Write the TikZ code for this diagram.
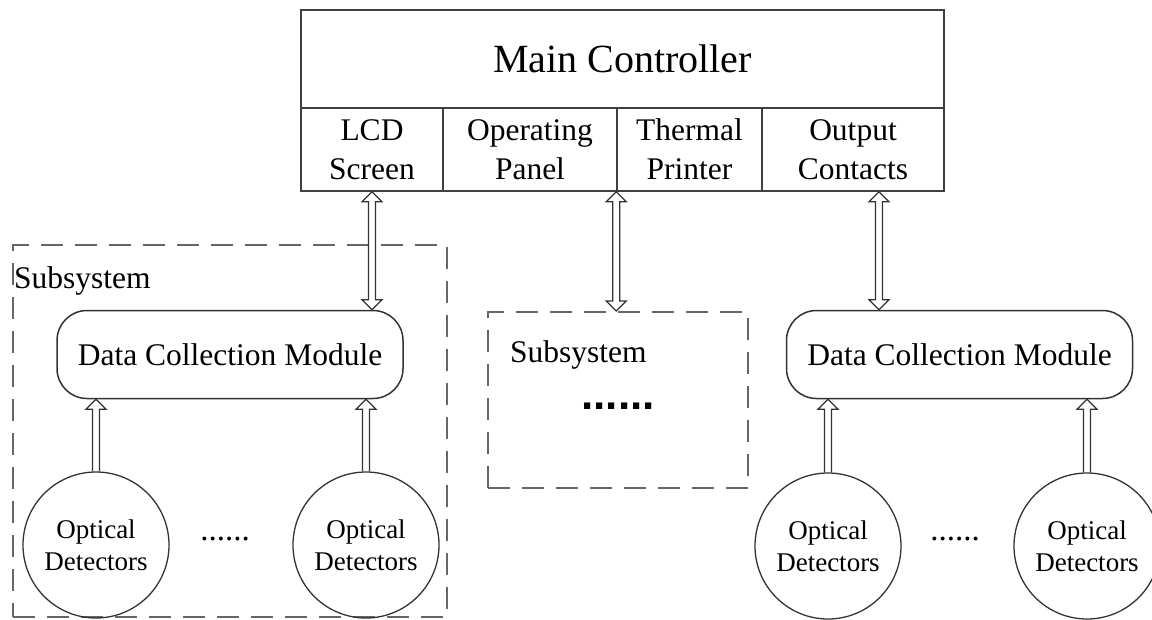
\documentclass[tikz,border=0pt]{standalone}
\usepackage{fontspec}
\setmainfont{Liberation Serif}
\newfontfamily\dotfont{Liberation Sans}
\usetikzlibrary{calc}

\tikzset{
  ctrlbox/.style={draw=black!75, line width=1.5pt, inner sep=0pt, align=center},
  cell/.style={ctrlbox, minimum height=83pt, font=\fontsize{31.5}{39}\selectfont},
  module/.style={draw=black!80, line width=1.5pt, rounded corners=30pt, minimum width=346pt, minimum height=88pt, font=\fontsize{31.5}{38}\selectfont},
  detector/.style={draw=black!80, circle, line width=1.3pt, minimum size=146pt, inner sep=0pt, align=center, font=\fontsize{27}{32}\selectfont},
  subsys/.style={draw=black!60, line width=2pt, dash pattern=on 22pt off 12pt, inner sep=0pt},
  tagtext/.style={font=\fontsize{31.5}{38}\selectfont, inner sep=0pt, anchor=base west},
  uparrow/.style={draw=black!80, line width=1.2pt, line join=miter, to path={
    let \p1=(\tikztostart), \p2=(\tikztotarget) in
    (\x1-3.5pt,\y1) -- (\x1-3.5pt,\y2-10pt) -- (\x1-10pt,\y2-10pt) -- (\x1,\y2)
    -- (\x1+10pt,\y2-10pt) -- (\x1+3.5pt,\y2-10pt) -- (\x1+3.5pt,\y1)}},
  bothways/.style={draw=black!80, line width=1.2pt, line join=miter, to path={
    let \p1=(\tikztostart), \p2=(\tikztotarget) in
    (\x1,\y1) -- (\x1-10pt,\y1+10pt) -- (\x1-3.5pt,\y1+10pt) -- (\x1-3.5pt,\y2-10pt)
    -- (\x1-10pt,\y2-10pt) -- (\x1,\y2) -- (\x1+10pt,\y2-10pt) -- (\x1+3.5pt,\y2-10pt)
    -- (\x1+3.5pt,\y1+10pt) -- (\x1+10pt,\y1+10pt) -- cycle}}
}

\begin{document}
\begin{tikzpicture}[x=1pt, y=-1pt]
\useasboundingbox (0,0) rectangle (1152,619);
% main controller
\node[ctrlbox, minimum width=643pt, minimum height=98pt, font=\fontsize{40}{48}\selectfont] (main) at (622.5,59) {Main Controller};
\node[cell, minimum width=142pt] (lcd) at (372,149.5) {LCD\\Screen};
\node[cell, minimum width=174pt] (panel) at (530,149.5) {Operating\\Panel};
\node[cell, minimum width=145pt] (printer) at (689.5,149.5) {Thermal\\Printer};
\node[cell, minimum width=182pt] (contacts) at (853,149.5) {Output\\Contacts};
% left subsystem
\node[subsys, minimum width=434pt, minimum height=372pt] (sub1) at (230,431) {};
\node[tagtext] (tag1) at (14,288) {Subsystem};
\node[module] (dcm1) at (230,354.5) {Data Collection Module};
\node[detector] (c1) at (96,545) {Optical\\Detectors};
\node[detector] (c2) at (366,545) {Optical\\Detectors};
\node[anchor=base, font=\fontsize{33}{38}\selectfont] (dots1) at (225,540) {......};
% middle subsystem
\node[subsys, minimum width=260pt, minimum height=176pt] (sub2) at (618,400) {};
\node[tagtext] (tag2) at (510,362) {Subsystem};
\node[anchor=base, font=\fontsize{44}{50}\dotfont\bfseries] (dots2) at (618,409) {......};
% right subsystem
\node[module] (dcm2) at (959.5,354.5) {Data Collection Module};
\node[detector] (c3) at (828,546) {Optical\\Detectors};
\node[detector] (c4) at (1087,546) {Optical\\Detectors};
\node[anchor=base, font=\fontsize{33}{38}\selectfont] (dots3) at (955,540) {......};
% links
\draw[bothways] (dcm1.north -| lcd.south) to (lcd.south);
\draw[bothways] (sub2.north -| printer.south west) to (printer.south west);
\draw[bothways] ([xshift=-80.5pt]dcm2.north) to ([xshift=-80.5pt]dcm2.north |- contacts.south);
\draw[uparrow] (c1.north) to (dcm1.south -| c1.north);
\draw[uparrow] (c2.north) to (dcm1.south -| c2.north);
\draw[uparrow] (c3.north) to (dcm2.south -| c3.north);
\draw[uparrow] (c4.north) to (dcm2.south -| c4.north);
\end{tikzpicture}
\end{document}
